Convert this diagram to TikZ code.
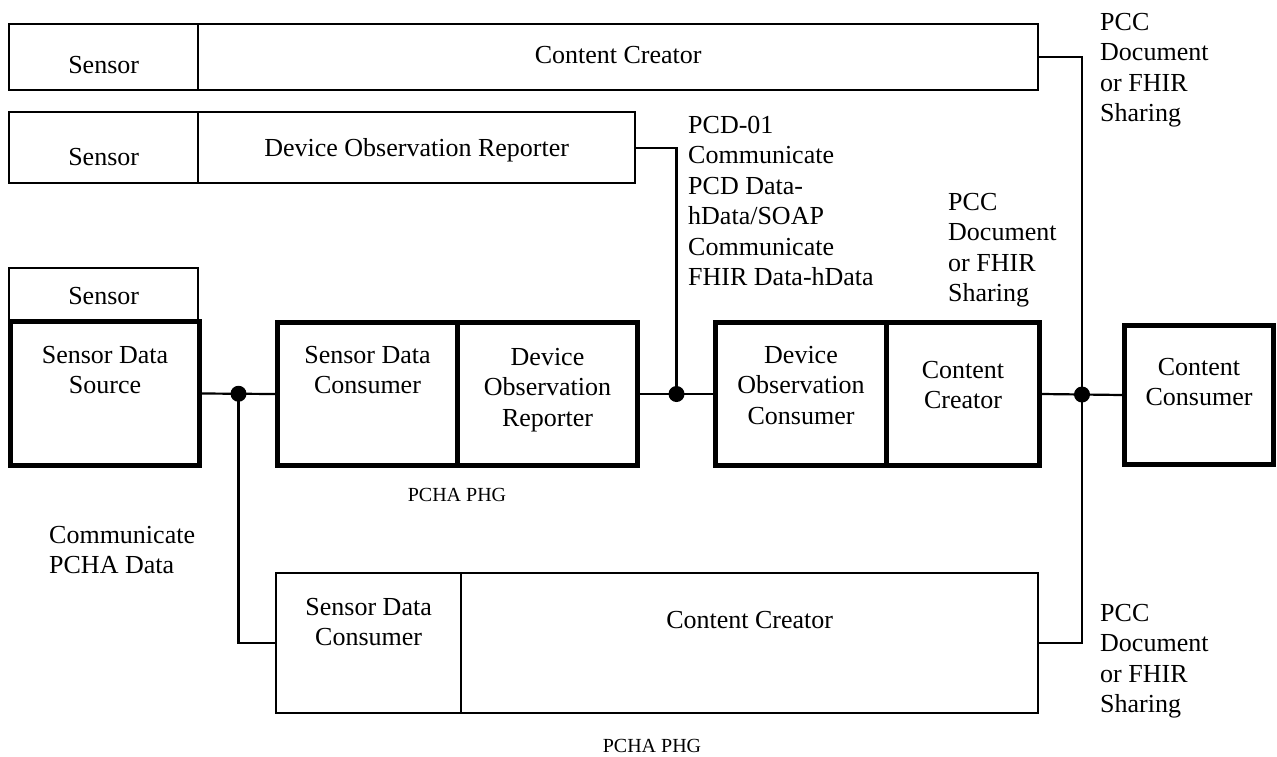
\documentclass[tikz,border=0pt]{standalone}
\usepackage{fontspec}
\setmainfont{Liberation Serif}
\usetikzlibrary{positioning,calc}
\newcommand{\mainsz}{\fontsize{26}{30.5}\selectfont}
\newcommand{\smallsz}{\fontsize{20}{23}\selectfont}
\tikzset{cell/.style={draw,line width=2.3pt,inner sep=0pt,anchor=north west},
 thick/.style={cell,line width=5pt},
 txt/.style={inner sep=0pt,align=center,font=\mainsz},
 lbl/.style={inner sep=0pt,align=left,anchor=north west,font=\mainsz},
 tag/.style={inner sep=0pt,font=\smallsz},
 wire/.style={line width=2.2pt},
 dot/.style={circle,fill,inner sep=0pt,minimum size=16pt}}

\begin{document}
\begin{tikzpicture}[x=1pt,y=-1pt]
\useasboundingbox (0,0) rectangle (1277,756);
% top rows
\node[cell,minimum width=189pt,minimum height=66pt] (sen1) at (8,23) {};
\node[cell,minimum width=840pt,minimum height=66pt] (cc1) at (197,23) {};
\node[cell,minimum width=189pt,minimum height=71pt] (sen2) at (8,111) {};
\node[cell,minimum width=437pt,minimum height=71pt] (dor1) at (197,111) {};
\node[txt,below=33pt of sen1.north] (tsen1) {Sensor};
\node[txt,below=23pt of cc1.north] (tcc1) {Content Creator};
\node[txt,below=37pt of sen2.north] (tsen2) {Sensor};
\node[txt,below=27pt of dor1.north] (tdor1) {Device Observation Reporter};
% middle row
\node[cell,minimum width=189pt,minimum height=52pt] (sen3) at (8,267) {};
\node[thick,minimum width=189pt,minimum height=144pt] (sds) at (8,319) {};
\node[thick,minimum width=180pt,minimum height=143pt] (sdc) at (275,320) {};
\node[thick,minimum width=180pt,minimum height=143pt] (dor) at (455,320) {};
\node[thick,minimum width=171pt,minimum height=143pt] (doc) at (713,320) {};
\node[thick,minimum width=153pt,minimum height=143pt] (cc2) at (884,320) {};
\node[thick,minimum width=149pt,minimum height=139pt] (ccons) at (1122,323) {};
\node[txt,below=20pt of sen3.north] (tsen3) {Sensor};
\node[txt,below=27pt of sds.north] (tsds) {Sensor Data\\Source};
\node[txt,below=26pt of sdc.north] (tsdc) {Sensor Data\\Consumer};
\node[txt,below=28pt of dor.north] (tdor) {Device\\Observation\\Reporter};
\node[txt,below=26pt of doc.north] (tdoc) {Device\\Observation\\Consumer};
\node[txt,below=41pt of cc2.north] (tcc2) {Content\\Creator};
\node[txt,below=35pt of ccons.north] (tccons) {Content\\Consumer};
% bottom row
\node[cell,minimum width=185pt,minimum height=140pt] (sdc2) at (275,572) {};
\node[cell,minimum width=577pt,minimum height=140pt] (cc3) at (460,572) {};
\node[txt,below=26pt of sdc2.north] (tsdc2) {Sensor Data\\Consumer};
\node[txt,below=39pt of cc3.north] (tcc3) {Content Creator};
% labels
\node[lbl] (lshare1) at (1100,13) {PCC\\Document\\or FHIR\\Sharing};
\node[lbl] (lpcd) at (688,116) {PCD-01\\Communicate\\PCD Data-\\hData/SOAP\\Communicate\\FHIR Data-hData};
\node[lbl] (lshare2) at (948,193) {PCC\\Document\\or FHIR\\Sharing};
\node[lbl] (lshare3) at (1100,604) {PCC\\Document\\or FHIR\\Sharing};
\node[lbl] (lcomm) at (49,526) {Communicate\\PCHA Data};
\node[tag] (phg1) at (457,495) {PCHA PHG};
\node[tag] (phg2) at (652,746) {PCHA PHG};
% connectors
\coordinate (j1) at ($(sds.east)!0.5!(sdc.west)$);
\coordinate (j2) at ($(dor.east)!0.5!(doc.west)$);
\coordinate (j3) at ($(cc2.east)!0.5!(ccons.west)$);
\draw[wire] (sds.east) -- (sdc.west);
\draw[wire] (dor.east) -- (doc.west);
\draw[wire] (cc2.east) -- (ccons.west);
\draw[wire] (j1) |- (sdc2.west);
\draw[wire] (dor1.east) -| (j2);
\draw[wire] (cc1.east) -| (j3) |- (cc3.east);
\foreach \j in {j1,j2,j3}{\node[dot] at (\j) {};}
\end{tikzpicture}
\end{document}
